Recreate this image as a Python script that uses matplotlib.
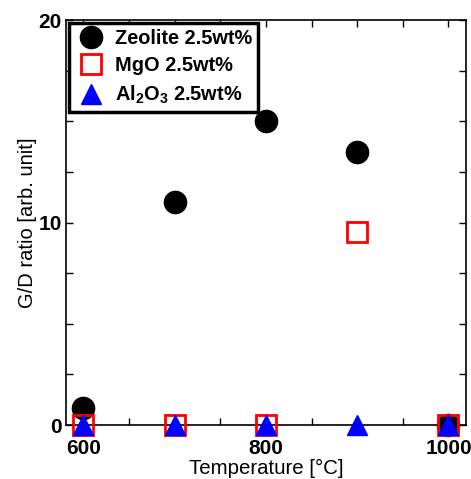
import matplotlib
matplotlib.use('Agg')
from matplotlib import pyplot as plt
from matplotlib.ticker import MultipleLocator

temperature = [600, 700, 800, 900, 1000]
zeolite = [0.85, 11.0, 15.0, 13.5, 0.0]
mgo = [0.0, 0.0, 0.0, 9.55, 0.0]
al2o3 = [0.0, 0.0, 0.0, 0.0, 0.0]

labels = ['Zeolite 2.5wt%', 'MgO 2.5wt%', 'Al$_2$O$_3$ 2.5wt%']


def main():
    plt.rcParams['font.family'] = ['Liberation Sans', 'DejaVu Sans']
    plt.rcParams['mathtext.fontset'] = 'custom'
    plt.rcParams['mathtext.rm'] = 'Liberation Sans:bold'
    plt.rcParams['mathtext.it'] = 'Liberation Sans:bold'

    fig = plt.figure(figsize=(4.71, 4.79), dpi=100)
    ax = fig.add_axes([0.140, 0.1127, 0.849, 0.8455])

    ax.plot(temperature, zeolite, 'o', color='black', markersize=16,
            clip_on=False, zorder=3, label=labels[0])
    ax.plot(temperature, mgo, 's', markerfacecolor='none', markeredgecolor='red',
            markeredgewidth=2, markersize=15, clip_on=False, zorder=4, label=labels[1])
    ax.plot(temperature, al2o3, '^', color='blue', markersize=14,
            clip_on=False, zorder=5, label=labels[2])

    ax.set_xlim(581, 1019)
    ax.set_ylim(0, 20)
    ax.xaxis.set_major_locator(MultipleLocator(200))
    ax.xaxis.set_minor_locator(MultipleLocator(50))
    ax.yaxis.set_major_locator(MultipleLocator(10))
    ax.yaxis.set_minor_locator(MultipleLocator(2.5))
    ax.tick_params(which='both', direction='in', top=True, right=True,
                   labelsize=15, width=1, length=5)
    ax.tick_params(axis='x', which='major', pad=10)
    ax.tick_params(axis='y', which='major', pad=3)
    for lbl in ax.get_xticklabels() + ax.get_yticklabels():
        lbl.set_fontweight('bold')
    for sp in ax.spines.values():
        sp.set_linewidth(1.2)

    ax.set_xlabel('Temperature [°C]', fontsize=14.7, labelpad=1)
    ax.set_ylabel('G/D ratio [arb. unit]', fontsize=14.5, labelpad=1)

    leg = ax.legend(loc='upper left', bbox_to_anchor=(0.0, 1.0), fancybox=False,
                    framealpha=1, edgecolor='black', handletextpad=0.4,
                    borderpad=0.3, labelspacing=0.42, borderaxespad=0.15,
                    handlelength=1.6, prop={'size': 14.4, 'weight': 'bold'})
    leg.get_frame().set_linewidth(2.5)

    fig.savefig('out.png', dpi=100)


if __name__ == '__main__':
    main()
